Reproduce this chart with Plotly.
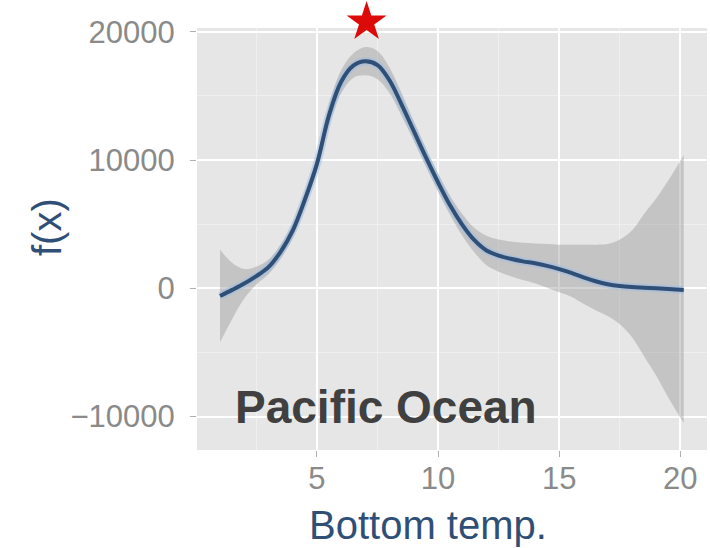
import plotly.graph_objects as go

# ---- data ----
temp = [1.0, 1.5, 2.0, 2.5, 3.0, 3.5, 4.0, 4.5, 5.0, 5.5, 6.0, 6.5, 7.0, 7.5,
        8.0, 8.5, 9.0, 9.5, 10.0, 10.5, 11.0, 11.5, 12.0, 12.5, 13.0, 13.5,
        14.0, 14.5, 15.0, 15.5, 16.0, 16.5, 17.0, 17.5, 18.0, 18.5, 19.0, 19.5, 20.14]
fx = [-600, -120, 380, 950, 1650, 2850, 4500, 6900, 9700, 13500, 16100, 17350, 17700, 17400,
      16200, 14300, 12250, 10200, 8250, 6450, 4950, 3750, 2950, 2550, 2300, 2100,
      1950, 1750, 1500, 1200, 850, 550, 320, 180, 100, 50, 0, -60, -130]
upper = [3000, 2000, 1500, 1700, 2250, 3400, 5050, 7450, 10250, 14300, 17000, 18300, 18800, 18500,
         17200, 15200, 13000, 10900, 8950, 7200, 5800, 4700, 4100, 3800, 3650, 3550,
         3500, 3450, 3400, 3400, 3400, 3400, 3450, 3800, 4500, 5800, 7000, 8400, 10400]
lower = [-4200, -2400, -800, 300, 1100, 2300, 3950, 6350, 9150, 12700, 15200, 16400, 16600, 16300,
         15200, 13400, 11500, 9500, 7550, 5700, 4100, 2800, 1800, 1300, 950, 650,
         400, 50, -300, -650, -1200, -1700, -2150, -2800, -3800, -5300, -6800, -8500, -10500]
peak_x = [7.05]
x_ticks = [5, 10, 15, 20]
y_ticks = [-10000, 0, 10000, 20000]
y_ticklabels = ["\u221210000", "0", "10000", "20000"]

FONT = "Liberation Sans, Arial, Helvetica, sans-serif"
BLUE = "#2f4f76"
PANEL = "#e6e6e6"

# layout geometry (pixels)
L, R, T, B = 197, 3, 0, 98
W, H = 710, 548
PANEL_TOP = 28
pw, ph = W - L - R, H - T - B
split = (H - B - PANEL_TOP) / ph          # top of the main panel, as a paper fraction
star_frac = (PANEL_TOP - 22) / PANEL_TOP  # star centre within the strip above the panel


def px_x(p):
    return (p - L) / pw


def px_y(p):
    return (H - B - p) / ph


fig = go.Figure()
fig.add_trace(go.Scatter(x=temp, y=lower, mode="lines", line=dict(width=0, shape="spline", smoothing=1),
                         hoverinfo="skip", showlegend=False))
fig.add_trace(go.Scatter(x=temp, y=upper, mode="lines", line=dict(width=0, shape="spline", smoothing=1),
                         fill="tonexty", fillcolor="rgba(150,150,150,0.42)", hoverinfo="skip", showlegend=False))
fig.add_trace(go.Scatter(x=temp, y=fx, mode="lines",
                         line=dict(width=8, color="rgba(160,190,225,0.55)", shape="spline", smoothing=1),
                         hoverinfo="skip", showlegend=False))
fig.add_trace(go.Scatter(x=temp, y=fx, mode="lines",
                         line=dict(width=4, color=BLUE, shape="spline", smoothing=1), showlegend=False))

# red star above the peak, drawn in a thin strip subplot above the panel
fig.add_trace(go.Scatter(x=peak_x, y=[star_frac], xaxis="x2", yaxis="y2", mode="markers",
                         cliponaxis=False,
                         marker=dict(symbol="star", size=30, color="#dd0a0a", line=dict(width=0)),
                         showlegend=False, hoverinfo="skip"))

# grey panel background for the main subplot only
fig.add_shape(type="rect", xref="x domain", yref="y domain", x0=0, x1=1, y0=0, y1=1,
              fillcolor=PANEL, line=dict(width=0), layer="below")

fig.add_annotation(x=7.85, y=-9250, xref="x", yref="y", text="<b>Pacific Ocean</b>", showarrow=False,
                   font=dict(family=FONT, size=46, color="#404040"), xanchor="center", yanchor="middle")
fig.add_annotation(x=px_x(428), y=px_y(525), xref="paper", yref="paper", text="Bottom temp.",
                   showarrow=False, font=dict(family=FONT, size=40, color=BLUE),
                   xanchor="center", yanchor="middle")
fig.add_annotation(x=px_x(47), y=px_y(227), xref="paper", yref="paper", text="f(x)", showarrow=False,
                   textangle=-90, font=dict(family=FONT, size=40, color=BLUE),
                   xanchor="center", yanchor="middle")

fig.update_layout(
    width=W, height=H, margin=dict(l=L, r=R, t=T, b=B, autoexpand=False),
    paper_bgcolor="white", plot_bgcolor="rgba(0,0,0,0)",
    font=dict(family=FONT),
    xaxis=dict(range=[0.05, 21.1], tickvals=x_ticks, ticks="outside", ticklen=6, tickcolor="#b0b0b0",
               tickfont=dict(size=31, color="#8a8a8a"), showgrid=True, gridcolor="white", gridwidth=2,
               zeroline=False, showline=False, automargin=False, ticklabelstandoff=-5, anchor="y",
               minor=dict(tickvals=[2.5, 7.5, 12.5, 17.5], showgrid=True, gridcolor="#efefef", gridwidth=1)),
    yaxis=dict(range=[-12600, 20290], domain=[0, split], tickvals=y_ticks, ticktext=y_ticklabels,
               ticks="outside", ticklen=6,
               tickcolor="#b0b0b0", tickfont=dict(size=31, color="#8a8a8a"), showgrid=True,
               gridcolor="white", gridwidth=2, zeroline=False, showline=False, automargin=False,
               ticklabelstandoff=9,
               minor=dict(tickvals=[-5000, 5000, 15000], showgrid=True, gridcolor="#efefef", gridwidth=1)),
    xaxis2=dict(matches="x", anchor="y2", visible=False, showgrid=False, zeroline=False),
    yaxis2=dict(range=[0, 1], domain=[split, 1], anchor="x2", visible=False, showgrid=False, zeroline=False),
)

fig.write_html("out.html", config={"displayModeBar": False},
               post_script="document.body.style.margin='0';document.body.style.overflow='hidden';")
